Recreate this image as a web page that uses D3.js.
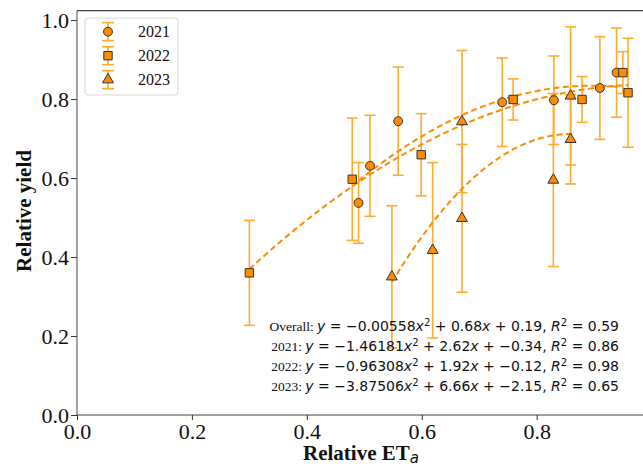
<!DOCTYPE html>
<html>
<head>
<meta charset="utf-8">
<script src="https://cdn.jsdelivr.net/npm/d3@7"></script>
<style>
  body { margin: 0; background: #fff; }
  svg { display: block; }
</style>
</head>
<body>
<div id="chart"></div>
<script>
// 2021 (circles)
const x2021 = [0.49, 0.51, 0.559, 0.74, 0.83, 0.91, 0.939]
const y2021 = [0.537, 0.631, 0.744, 0.792, 0.797, 0.828, 0.867]
const e2021 = [0.102, 0.128, 0.137, 0.112, 0.112, 0.13, 0.113]

// 2022 (squares)
const x2022 = [0.30, 0.479, 0.599, 0.759, 0.879, 0.95, 0.959]
const y2022 = [0.36, 0.597, 0.659, 0.799, 0.799, 0.867, 0.816]
const e2022 = [0.133, 0.155, 0.104, 0.052, 0.058, 0.053, 0.138]

// 2023 (triangles)
const x2023 = [0.548, 0.619, 0.67, 0.67, 0.829, 0.859, 0.859]
const y2023 = [0.35, 0.417, 0.498, 0.743, 0.595, 0.698, 0.808]
const e2023 = [0.18, 0.222, 0.187, 0.18, 0.219, 0.113, 0.175]

// quadratic fit coefficients printed on the chart [a, b, c]
const fit2021 = [-1.46181, 2.62, -0.34]
const fit2022 = [-0.96308, 1.92, -0.12]
const fit2023 = [-3.87506, 6.66, -2.15]

const xTicks = [0.0, 0.2, 0.4, 0.6, 0.8]
const yTicks = [0.0, 0.2, 0.4, 0.6, 0.8, 1.0]

const equations = [
  ['Overall: ', '−0.00558', '0.68', '0.19', '0.59'],
  ['2021: ', '−1.46181', '2.62', '−0.34', '0.86'],
  ['2022: ', '−0.96308', '1.92', '−0.12', '0.98'],
  ['2023: ', '−3.87506', '6.66', '−2.15', '0.65']
]

const W = 643
const H = 470

const svg = d3
  .select('#chart')
  .append('svg')
  .attr('width', W)
  .attr('height', H)

const xScale = d3.scaleLinear().domain([0, 0.992]).range([77, 647])
const yScale = d3.scaleLinear().domain([0, 1.024]).range([415, 10.6])

const markerFill = '#ff8c00'
const markerStroke = '#333'
const errColor = '#ffab2e'
const serif = "'Liberation Serif', 'Times New Roman', serif"
const sans = "'DejaVu Sans', sans-serif"

const series = [
  { name: '2021', xs: x2021, ys: y2021, es: e2021, fit: fit2021, symbol: d3.symbolCircle, size: 62 },
  { name: '2022', xs: x2022, ys: y2022, es: e2022, fit: fit2022, symbol: d3.symbolSquare, size: 70 },
  { name: '2023', xs: x2023, ys: y2023, es: e2023, fit: fit2023, symbol: d3.symbolTriangle, size: 52 }
]

// axes
const xAxis = d3.axisBottom(xScale).tickValues(xTicks).tickSize(5).tickFormat(d3.format('.1f'))
const yAxis = d3.axisLeft(yScale).tickValues(yTicks).tickSize(6).tickFormat(d3.format('.1f'))

const gx = svg.append('g').attr('transform', 'translate(0,415)').call(xAxis)
const gy = svg.append('g').attr('transform', 'translate(77,0)').call(yAxis)

;[gx, gy].forEach(g => {
  g.select('.domain').remove()
  g.selectAll('line').attr('stroke', '#333')
  g.selectAll('text')
    .attr('font-family', serif)
    .attr('font-size', 22)
    .attr('fill', '#111')
})
gx.selectAll('text').attr('dy', '0.72em').attr('y', 8)
gy.selectAll('text').attr('x', -8).attr('dy', '0.34em')

// spines
svg.append('line').attr('x1', 77).attr('x2', 77).attr('y1', 10.6).attr('y2', 415).attr('stroke', '#444').attr('stroke-width', 1)
svg.append('line').attr('x1', 77).attr('x2', W).attr('y1', 415).attr('y2', 415).attr('stroke', '#444').attr('stroke-width', 1)
svg.append('line').attr('x1', 77).attr('x2', W).attr('y1', 10.6).attr('y2', 10.6).attr('stroke', '#444').attr('stroke-width', 1.2)

// axis labels
svg.append('text')
  .attr('x', 361)
  .attr('y', 460)
  .attr('text-anchor', 'middle')
  .attr('font-family', serif)
  .attr('font-weight', 'bold')
  .attr('font-size', 21)
  .attr('fill', '#111')
  .text('Relative ET')
  .append('tspan')
  .attr('font-family', sans)
  .attr('font-style', 'italic')
  .attr('font-weight', 'normal')
  .attr('font-size', 15)
  .attr('dy', 3)
  .text('a')

svg.append('text')
  .attr('transform', 'translate(31,211) rotate(-90)')
  .attr('text-anchor', 'middle')
  .attr('font-family', serif)
  .attr('font-weight', 'bold')
  .attr('font-size', 21)
  .attr('fill', '#111')
  .text('Relative yield')

// error bars
const capHalf = 5.5
series.forEach(s => {
  const g = svg.append('g').attr('stroke', errColor).attr('stroke-width', 1.6)
  s.xs.forEach((xv, i) => {
    const px = xScale(xv)
    const top = yScale(s.ys[i] + s.es[i])
    const bot = yScale(s.ys[i] - s.es[i])
    g.append('line').attr('x1', px).attr('x2', px).attr('y1', top).attr('y2', bot)
    g.append('line').attr('x1', px - capHalf).attr('x2', px + capHalf).attr('y1', top).attr('y2', top)
    g.append('line').attr('x1', px - capHalf).attr('x2', px + capHalf).attr('y1', bot).attr('y2', bot)
  })
})

// fitted curves
const line = d3.line().x(d => xScale(d[0])).y(d => yScale(d[1]))
series.forEach(s => {
  const [x0, x1] = d3.extent(s.xs)
  const pts = d3.range(0, 51).map(k => {
    const xv = x0 + (x1 - x0) * k / 50
    return [xv, s.fit[0] * xv * xv + s.fit[1] * xv + s.fit[2]]
  })
  svg.append('path')
    .attr('d', line(pts))
    .attr('fill', 'none')
    .attr('stroke', markerFill)
    .attr('stroke-width', 2)
    .attr('stroke-dasharray', '6,3.5')
})

// markers
series.forEach(s => {
  svg.append('g')
    .selectAll('path')
    .data(s.xs.map((xv, i) => [xv, s.ys[i]]))
    .enter()
    .append('path')
    .attr('d', d3.symbol().type(s.symbol).size(s.size))
    .attr('transform', d => `translate(${xScale(d[0])},${yScale(d[1])})`)
    .attr('fill', markerFill)
    .attr('stroke', markerStroke)
    .attr('stroke-width', 1)
})

// equations
equations.forEach((eq, i) => {
  const t = svg.append('text')
    .attr('x', 619)
    .attr('y', 331 + i * 20)
    .attr('text-anchor', 'end')
    .attr('font-size', 14)
    .attr('fill', '#111')
  t.append('tspan').attr('font-family', serif).attr('font-size', 13.5).text(eq[0])
  const m = (txt, italic) => t.append('tspan').attr('font-family', sans).attr('font-style', italic ? 'italic' : 'normal').text(txt)
  m('y', true)
  m(' = ' + eq[1], false)
  m('x', true)
  t.append('tspan').attr('font-family', sans).attr('font-size', 10).attr('dy', -5.5).text('2')
  t.append('tspan').attr('font-family', sans).attr('dy', 5.5).text(' + ' + eq[2])
  m('x', true)
  m(' + ' + eq[3] + ', ', false)
  m('R', true)
  t.append('tspan').attr('font-family', sans).attr('font-size', 10).attr('dy', -5.5).text('2')
  t.append('tspan').attr('font-family', sans).attr('dy', 5.5).text(' = ' + eq[4])
})

// legend
const legend = svg.append('g')
legend.append('rect')
  .attr('x', 85).attr('y', 18).attr('width', 93).attr('height', 77)
  .attr('rx', 3)
  .attr('fill', '#fff').attr('fill-opacity', 0.8)
  .attr('stroke', '#d6d6d6').attr('stroke-width', 1)

series.forEach((s, i) => {
  const cy = 31.7 + i * 24
  const cx = 108
  const g = legend.append('g')
  g.append('g').attr('stroke', errColor).attr('stroke-width', 1.6)
    .call(e => {
      e.append('line').attr('x1', cx).attr('x2', cx).attr('y1', cy - 9).attr('y2', cy + 9)
      e.append('line').attr('x1', cx - 6).attr('x2', cx + 6).attr('y1', cy - 9).attr('y2', cy - 9)
      e.append('line').attr('x1', cx - 6).attr('x2', cx + 6).attr('y1', cy + 9).attr('y2', cy + 9)
    })
  g.append('path')
    .attr('d', d3.symbol().type(s.symbol).size(s.size))
    .attr('transform', `translate(${cx},${cy})`)
    .attr('fill', markerFill)
    .attr('stroke', markerStroke)
    .attr('stroke-width', 1)
  g.append('text')
    .attr('x', 138)
    .attr('y', cy + 5.5)
    .attr('font-family', serif)
    .attr('font-size', 16)
    .attr('fill', '#111')
    .text(s.name)
})
</script>
</body>
</html>
